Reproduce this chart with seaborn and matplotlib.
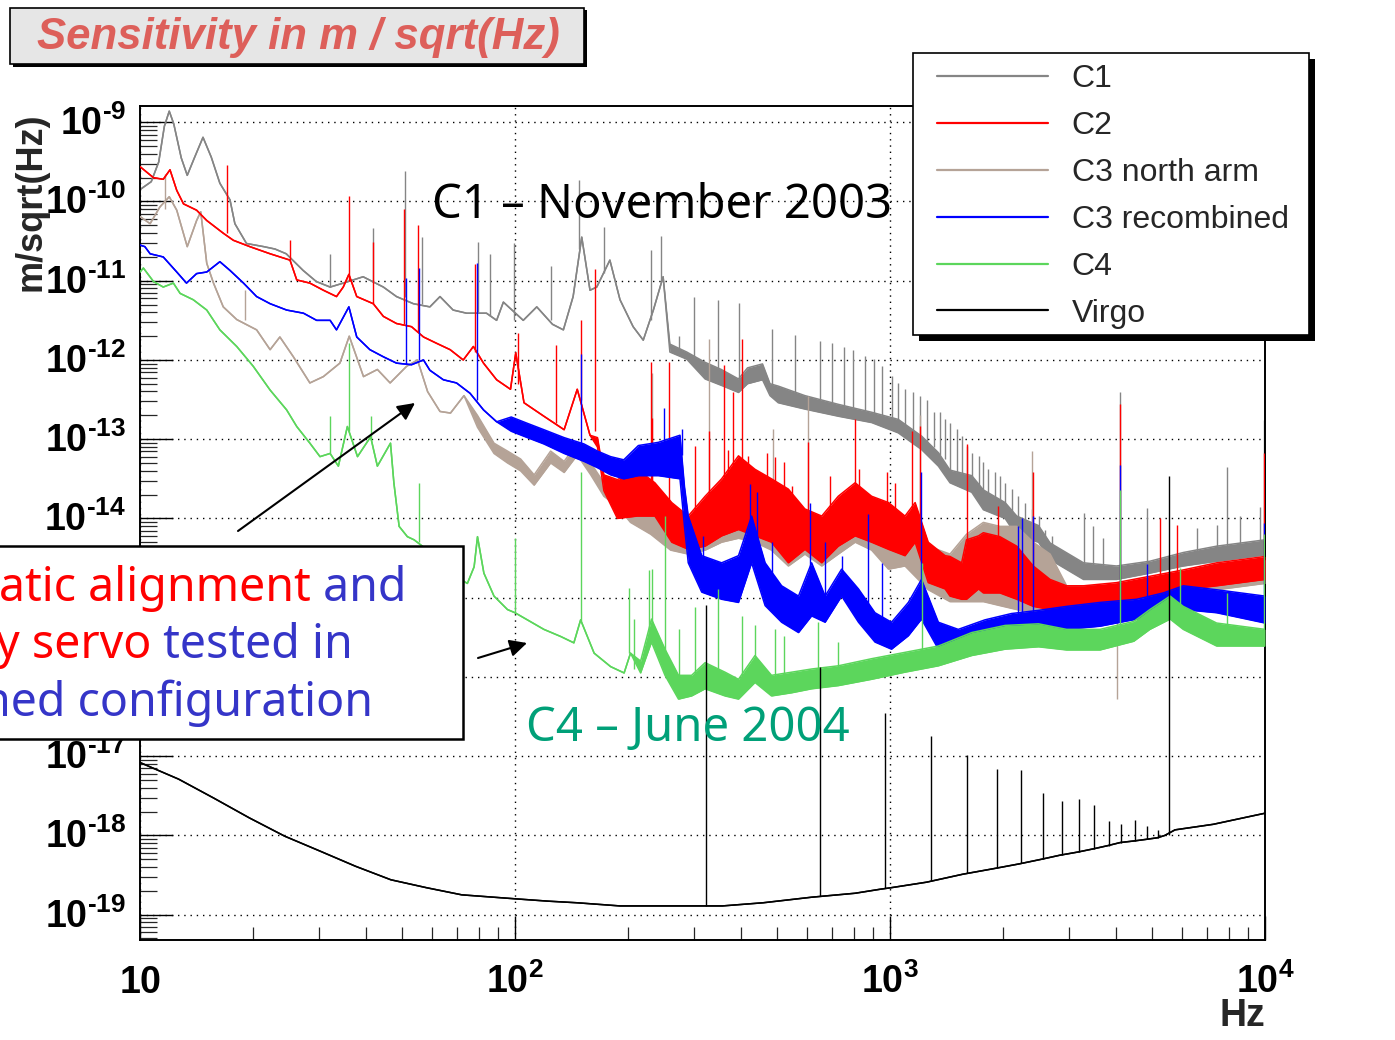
"""Virgo commissioning runs: displacement sensitivity C1..C4 against the Virgo design curve.

Writes out.png (1395 x 1040).
"""
import numpy as np
import pandas as pd
import matplotlib
matplotlib.use("Agg")
import matplotlib.pyplot as plt
from matplotlib.patches import Rectangle
from matplotlib.lines import Line2D
from matplotlib.text import Annotation
from matplotlib.transforms import ScaledTranslation
from matplotlib.ticker import FixedLocator, LogLocator, NullFormatter
import seaborn as sns

# Curves.
# Each point: (log10 frequency [Hz], log10 lower edge, log10 upper edge) in m/sqrt(Hz).
# Lower == upper where the trace is a thin line; they split where it is a noisy band.
c1 = [
    (1.000, -9.85, -9.85), (1.030, -9.75, -9.75), (1.050, -9.50, -9.50), (1.065, -9.05, -9.05),
    (1.078, -8.86, -8.86), (1.090, -9.02, -9.02), (1.110, -9.45, -9.45), (1.126, -9.67, -9.67),
    (1.145, -9.45, -9.45), (1.168, -9.19, -9.19), (1.190, -9.44, -9.44), (1.213, -9.77, -9.77),
    (1.240, -9.98, -9.98), (1.253, -10.28, -10.28), (1.284, -10.53, -10.53), (1.330, -10.57, -10.57),
    (1.360, -10.60, -10.60), (1.390, -10.66, -10.66), (1.435, -10.87, -10.87), (1.470, -11.01, -11.01),
    (1.507, -11.08, -11.08), (1.542, -11.03, -11.03), (1.595, -10.95, -10.95), (1.649, -11.08, -11.08),
    (1.684, -11.20, -11.20), (1.729, -11.29, -11.29), (1.773, -11.33, -11.33), (1.800, -11.20, -11.20),
    (1.835, -11.37, -11.37), (1.871, -11.41, -11.41), (1.924, -11.41, -11.41), (1.951, -11.50, -11.50),
    (1.969, -11.27, -11.27), (2.022, -11.50, -11.50), (2.058, -11.33, -11.33), (2.100, -11.55, -11.55),
    (2.129, -11.62, -11.62), (2.155, -11.20, -11.20), (2.178, -10.45, -10.45), (2.200, -11.12, -11.12),
    (2.218, -11.08, -11.08), (2.253, -10.74, -10.74), (2.280, -11.24, -11.24), (2.315, -11.58, -11.58),
    (2.342, -11.75, -11.75), (2.369, -11.37, -11.37), (2.395, -10.95, -10.95), (2.413, -11.90, -11.80),
    (2.458, -11.99, -11.90), (2.507, -12.24, -12.03), (2.550, -12.32, -12.12), (2.596, -12.41, -12.24),
    (2.620, -12.30, -12.10), (2.660, -12.25, -12.05), (2.680, -12.45, -12.30), (2.702, -12.54, -12.33),
    (2.773, -12.62, -12.45), (2.862, -12.71, -12.56), (2.951, -12.79, -12.66), (3.022, -12.92, -12.75),
    (3.084, -13.13, -12.96), (3.129, -13.34, -13.17), (3.160, -13.55, -13.39), (3.218, -13.67, -13.46),
    (3.249, -13.89, -13.64), (3.307, -14.00, -13.80), (3.338, -14.22, -13.97), (3.396, -14.30, -14.09),
    (3.427, -14.52, -14.31), (3.516, -14.77, -14.56), (3.604, -14.77, -14.60), (3.693, -14.69, -14.54),
    (3.782, -14.60, -14.43), (3.871, -14.54, -14.35), (4.000, -14.46, -14.27),
]
c2 = [
    (1.000, -9.56, -9.56), (1.036, -9.70, -9.70), (1.062, -9.72, -9.72), (1.080, -9.60, -9.60),
    (1.098, -9.86, -9.86), (1.116, -10.03, -10.03), (1.151, -10.11, -10.11), (1.178, -10.24, -10.24),
    (1.222, -10.40, -10.40), (1.249, -10.49, -10.49), (1.293, -10.57, -10.57), (1.347, -10.66, -10.66),
    (1.400, -10.74, -10.74), (1.418, -10.99, -10.99), (1.453, -11.03, -11.03), (1.489, -11.12, -11.12),
    (1.524, -11.20, -11.20), (1.542, -11.08, -11.08), (1.557, -10.92, -10.92), (1.578, -11.20, -11.20),
    (1.622, -11.29, -11.29), (1.649, -11.45, -11.45), (1.684, -11.54, -11.54), (1.724, -11.58, -11.58),
    (1.756, -11.71, -11.71), (1.791, -11.79, -11.79), (1.827, -11.87, -11.87), (1.862, -12.00, -12.00),
    (1.889, -11.83, -11.83), (1.916, -12.04, -12.04), (1.951, -12.25, -12.25), (1.988, -12.37, -12.37),
    (2.002, -11.91, -11.91), (2.024, -12.54, -12.54), (2.077, -12.71, -12.71), (2.131, -12.88, -12.88),
    (2.166, -12.37, -12.37), (2.200, -12.95, -12.95), (2.220, -13.10, -12.98), (2.237, -13.65, -13.45),
    (2.273, -14.00, -13.51), (2.326, -13.97, -13.38), (2.373, -13.97, -13.55), (2.418, -14.30, -13.80),
    (2.462, -14.39, -13.97), (2.507, -14.35, -13.72), (2.551, -14.22, -13.50), (2.596, -14.14, -13.21),
    (2.640, -14.22, -13.38), (2.684, -14.30, -13.50), (2.729, -14.56, -13.63), (2.773, -14.39, -13.88),
    (2.818, -14.56, -13.97), (2.862, -14.35, -13.72), (2.907, -14.22, -13.55), (2.951, -14.30, -13.72),
    (2.996, -14.39, -13.80), (3.040, -14.47, -13.97), (3.067, -14.30, -13.80), (3.102, -14.81, -14.30),
    (3.147, -14.89, -14.47), (3.160, -14.98, -14.48), (3.191, -15.02, -14.56), (3.204, -15.02, -14.27),
    (3.236, -14.89, -14.22), (3.249, -14.94, -14.18), (3.293, -14.94, -14.23), (3.338, -15.02, -14.35),
    (3.382, -15.11, -14.60), (3.427, -15.15, -14.77), (3.471, -15.15, -14.85), (3.516, -15.11, -14.85),
    (3.604, -15.06, -14.81), (3.693, -14.98, -14.73), (3.782, -14.90, -14.65), (3.871, -14.85, -14.56),
    (4.000, -14.77, -14.48),
]
c3_north = [
    (1.000, -10.19, -10.19), (1.027, -10.28, -10.28), (1.053, -10.07, -10.07), (1.078, -9.94, -9.94),
    (1.098, -10.11, -10.11), (1.126, -10.57, -10.57), (1.151, -10.24, -10.24), (1.162, -10.13, -10.13),
    (1.178, -10.78, -10.78), (1.196, -11.03, -11.03), (1.222, -11.33, -11.33), (1.258, -11.49, -11.49),
    (1.311, -11.62, -11.62), (1.347, -11.87, -11.87), (1.373, -11.71, -11.71), (1.409, -11.96, -11.96),
    (1.453, -12.29, -12.29), (1.489, -12.21, -12.21), (1.533, -12.04, -12.04), (1.558, -11.70, -11.70),
    (1.596, -12.21, -12.21), (1.633, -12.12, -12.12), (1.667, -12.29, -12.29), (1.711, -12.08, -12.08),
    (1.740, -12.00, -12.00), (1.767, -12.40, -12.40), (1.800, -12.65, -12.65), (1.828, -12.67, -12.67),
    (1.864, -12.45, -12.45), (1.900, -12.85, -12.70), (1.944, -13.18, -13.05), (1.980, -13.30, -13.15),
    (2.015, -13.40, -13.25), (2.051, -13.58, -13.45), (2.095, -13.30, -13.15), (2.131, -13.42, -13.28),
    (2.166, -13.20, -13.05), (2.202, -13.45, -13.30), (2.237, -13.72, -13.55), (2.273, -13.85, -13.65),
    (2.308, -14.05, -13.85), (2.362, -14.20, -13.90), (2.415, -14.40, -14.05), (2.462, -14.45, -14.00),
    (2.507, -14.40, -13.85), (2.551, -14.30, -13.65), (2.596, -14.25, -13.40), (2.640, -14.30, -13.50),
    (2.684, -14.40, -13.60), (2.729, -14.60, -13.70), (2.773, -14.45, -13.90), (2.818, -14.60, -14.00),
    (2.862, -14.45, -13.80), (2.907, -14.30, -13.60), (2.951, -14.40, -13.75), (2.996, -14.64, -13.85),
    (3.040, -14.60, -14.00), (3.102, -14.90, -14.35), (3.160, -15.05, -14.45), (3.204, -15.05, -14.20),
    (3.249, -15.05, -14.05), (3.293, -15.10, -14.10), (3.338, -15.15, -14.10), (3.382, -15.20, -14.30),
    (3.427, -15.19, -14.45), (3.471, -15.20, -14.85), (3.516, -15.15, -14.85), (3.604, -15.10, -14.85),
    (3.693, -15.02, -14.78), (3.782, -14.95, -14.70), (3.871, -14.90, -14.62), (4.000, -14.82, -14.52),
]
c3_recomb = [
    (1.000, -10.55, -10.55), (1.013, -10.57, -10.57), (1.027, -10.66, -10.66), (1.062, -10.70, -10.70),
    (1.098, -10.89, -10.89), (1.124, -11.03, -11.03), (1.151, -10.91, -10.91), (1.178, -10.89, -10.89),
    (1.213, -10.76, -10.76), (1.240, -10.87, -10.87), (1.276, -11.03, -11.03), (1.311, -11.20, -11.20),
    (1.347, -11.29, -11.29), (1.391, -11.37, -11.37), (1.436, -11.41, -11.41), (1.471, -11.50, -11.50),
    (1.507, -11.50, -11.50), (1.524, -11.62, -11.62), (1.557, -11.33, -11.33), (1.578, -11.71, -11.71),
    (1.613, -11.87, -11.87), (1.649, -11.96, -11.96), (1.684, -12.04, -12.04), (1.724, -12.06, -12.06),
    (1.756, -12.00, -12.00), (1.773, -12.13, -12.13), (1.809, -12.25, -12.25), (1.844, -12.29, -12.29),
    (1.880, -12.42, -12.42), (1.916, -12.63, -12.63), (1.951, -12.78, -12.78), (1.990, -12.90, -12.72),
    (2.033, -12.98, -12.80), (2.077, -13.06, -12.88), (2.131, -13.18, -12.98), (2.184, -13.28, -13.06),
    (2.220, -13.36, -13.15), (2.255, -13.45, -13.22), (2.290, -13.50, -13.26), (2.329, -13.46, -13.08),
    (2.382, -13.46, -13.04), (2.440, -13.50, -12.95), (2.452, -14.10, -13.60), (2.462, -14.56, -13.97),
    (2.498, -14.93, -14.47), (2.551, -15.02, -14.56), (2.596, -15.06, -14.47), (2.631, -14.56, -13.97),
    (2.667, -15.10, -14.56), (2.711, -15.31, -14.85), (2.756, -15.44, -14.98), (2.791, -15.23, -14.56),
    (2.827, -15.31, -14.98), (2.871, -14.98, -14.64), (2.916, -15.31, -14.89), (2.960, -15.56, -15.19),
    (3.004, -15.65, -15.31), (3.049, -15.48, -15.06), (3.084, -15.27, -14.77), (3.129, -15.65, -15.31),
    (3.182, -15.69, -15.40), (3.253, -15.65, -15.28), (3.324, -15.55, -15.20), (3.396, -15.42, -15.16),
    (3.471, -15.40, -15.11), (3.560, -15.36, -15.06), (3.658, -15.27, -15.02), (3.729, -15.15, -14.94),
    (3.782, -15.15, -14.85), (3.871, -15.19, -14.90), (4.000, -15.32, -14.98),
]
c4 = [
    (1.000, -10.89, -10.89), (1.009, -10.84, -10.84), (1.036, -11.01, -11.01), (1.062, -11.08, -11.08),
    (1.089, -11.03, -11.03), (1.107, -11.16, -11.16), (1.142, -11.24, -11.24), (1.178, -11.37, -11.37),
    (1.213, -11.62, -11.62), (1.258, -11.83, -11.83), (1.302, -12.08, -12.08), (1.347, -12.38, -12.38),
    (1.391, -12.63, -12.63), (1.418, -12.84, -12.84), (1.453, -13.05, -13.05), (1.480, -13.22, -13.22),
    (1.507, -13.18, -13.18), (1.529, -13.34, -13.34), (1.553, -12.84, -12.84), (1.580, -13.22, -13.22),
    (1.615, -12.97, -12.97), (1.633, -13.34, -13.34), (1.668, -13.05, -13.05), (1.677, -13.55, -13.55),
    (1.691, -14.10, -14.10), (1.713, -14.23, -14.23), (1.731, -14.27, -14.27), (1.753, -14.35, -14.35),
    (1.790, -14.50, -14.50), (1.830, -14.70, -14.70), (1.855, -14.77, -14.77), (1.873, -14.82, -14.82),
    (1.891, -14.61, -14.61), (1.900, -14.23, -14.23), (1.917, -14.69, -14.69), (1.944, -14.98, -14.98),
    (1.980, -15.15, -15.15), (2.000, -15.19, -15.19), (2.033, -15.28, -15.28), (2.077, -15.40, -15.40),
    (2.122, -15.49, -15.49), (2.157, -15.57, -15.57), (2.175, -15.28, -15.28), (2.211, -15.70, -15.70),
    (2.255, -15.87, -15.87), (2.291, -15.95, -15.95), (2.308, -15.70, -15.70), (2.335, -15.95, -15.80),
    (2.364, -15.56, -15.27), (2.400, -15.98, -15.65), (2.436, -16.28, -15.98), (2.471, -16.24, -15.98),
    (2.507, -16.15, -15.82), (2.560, -16.24, -15.94), (2.596, -16.28, -16.03), (2.640, -16.07, -15.73),
    (2.684, -16.24, -15.98), (2.738, -16.20, -15.94), (2.791, -16.15, -15.90), (2.862, -16.11, -15.86),
    (2.951, -16.03, -15.77), (3.040, -15.94, -15.69), (3.129, -15.86, -15.61), (3.218, -15.73, -15.44),
    (3.307, -15.65, -15.35), (3.396, -15.62, -15.33), (3.471, -15.66, -15.40), (3.560, -15.66, -15.40),
    (3.650, -15.55, -15.30), (3.693, -15.40, -15.15), (3.747, -15.27, -14.98), (3.782, -15.40, -15.11),
    (3.871, -15.61, -15.32), (4.000, -15.61, -15.40),
]
virgo = [
    (1.000, -17.08, -17.08), (1.044, -17.17, -17.17), (1.103, -17.29, -17.29), (1.197, -17.53, -17.53),
    (1.292, -17.78, -17.78), (1.386, -18.01, -18.01), (1.481, -18.20, -18.20), (1.575, -18.39, -18.39),
    (1.669, -18.56, -18.56), (1.764, -18.66, -18.66), (1.858, -18.75, -18.75), (2.000, -18.80, -18.80),
    (2.089, -18.83, -18.83), (2.165, -18.85, -18.85), (2.280, -18.89, -18.89), (2.470, -18.89, -18.89),
    (2.553, -18.89, -18.89), (2.662, -18.85, -18.85), (2.791, -18.78, -18.78), (2.907, -18.73, -18.73),
    (2.973, -18.68, -18.68), (3.003, -18.66, -18.66), (3.098, -18.59, -18.59), (3.194, -18.49, -18.49),
    (3.276, -18.42, -18.42), (3.344, -18.36, -18.36), (3.405, -18.30, -18.30), (3.453, -18.25, -18.25),
    (3.501, -18.21, -18.21), (3.542, -18.17, -18.17), (3.580, -18.13, -18.13), (3.614, -18.09, -18.09),
    (3.651, -18.07, -18.07), (3.683, -18.05, -18.05), (3.713, -18.03, -18.03), (3.733, -18.00, -18.00),
    (3.760, -17.93, -17.93), (3.862, -17.86, -17.86), (4.000, -17.72, -17.72),
]

# Narrow lines: (log10 frequency, log10 foot, log10 tip)
c1_lines = [
    (1.507, -11.08, -10.66), (1.620, -11.00, -10.34), (1.707, -11.20, -9.61), (1.751, -11.30, -10.45),
    (1.902, -11.40, -10.51), (1.933, -11.45, -10.66), (1.997, -11.50, -10.53), (2.095, -11.50, -10.82),
    (2.171, -10.60, -9.73), (2.237, -10.90, -10.32), (2.362, -11.50, -10.61), (2.388, -11.00, -10.44),
    (2.436, -11.90, -11.70), (2.476, -12.00, -11.20), (2.540, -12.10, -11.24), (2.597, -12.30, -11.28),
    (2.684, -12.40, -11.61), (2.747, -12.45, -11.68), (2.813, -12.50, -11.76), (2.844, -12.55, -11.78),
    (2.876, -12.60, -11.84), (2.902, -12.60, -11.87), (2.933, -12.65, -11.95), (2.956, -12.70, -11.99),
    (2.978, -12.70, -12.08), (3.004, -12.80, -12.20), (3.022, -12.85, -12.29), (3.040, -12.90, -12.37),
    (3.062, -12.95, -12.41), (3.080, -13.00, -12.45), (3.098, -13.05, -12.50), (3.116, -13.10, -12.66),
    (3.133, -13.20, -12.66), (3.147, -13.25, -12.75), (3.160, -13.40, -12.79), (3.178, -13.45, -12.87),
    (3.191, -13.50, -12.96), (3.204, -13.50, -13.08), (3.218, -13.55, -13.17), (3.236, -13.70, -13.21),
    (3.249, -13.75, -13.29), (3.262, -13.80, -13.38), (3.280, -13.85, -13.42), (3.293, -13.90, -13.46),
    (3.307, -13.90, -13.55), (3.324, -14.00, -13.63), (3.342, -14.05, -13.72), (3.360, -14.10, -13.80),
    (3.378, -14.15, -13.88), (3.396, -14.20, -13.97), (3.413, -14.30, -14.14), (3.431, -14.35, -14.22),
    (3.516, -14.65, -13.93), (3.542, -14.70, -14.10), (3.569, -14.70, -14.25), (3.613, -14.70, -12.40),
    (3.684, -14.60, -13.87), (3.818, -14.50, -14.12), (3.871, -14.45, -14.08), (3.898, -14.40, -13.35),
    (3.933, -14.40, -13.97), (3.987, -14.35, -13.85), (3.997, -14.35, -12.76),
]
c2_lines = [
    (1.231, -10.40, -9.54), (1.400, -10.74, -10.49), (1.557, -11.00, -9.93), (1.622, -11.29, -10.51),
    (1.705, -11.55, -10.09), (1.742, -11.65, -10.30), (1.894, -11.90, -10.79), (2.007, -12.30, -11.66),
    (2.108, -12.80, -11.81), (2.175, -12.50, -11.49), (2.213, -12.90, -10.85), (2.362, -13.60, -12.02),
    (2.364, -13.70, -12.73), (2.411, -13.80, -12.02), (2.480, -14.00, -13.08), (2.516, -13.90, -12.90),
    (2.556, -13.80, -12.06), (2.569, -13.90, -13.13), (2.582, -13.50, -12.41), (2.604, -13.50, -11.74),
    (2.622, -13.80, -13.21), (2.671, -13.90, -13.17), (2.693, -13.90, -13.23), (2.716, -14.00, -13.29),
    (2.738, -14.00, -13.59), (2.782, -14.10, -13.04), (2.840, -14.10, -13.46), (2.907, -13.80, -12.75),
    (2.916, -13.90, -13.38), (2.991, -14.00, -13.42), (3.013, -14.10, -13.55), (3.058, -14.00, -12.90),
    (3.080, -14.00, -12.83), (3.204, -14.50, -13.06), (3.289, -14.50, -13.84), (3.382, -14.80, -13.42),
    (3.613, -14.90, -12.55), (3.720, -14.85, -13.99), (3.764, -14.80, -14.08), (3.997, -14.60, -13.18),
]
c3_north_lines = [
    (1.067, -10.10, -9.65), (1.280, -11.50, -11.12), (2.364, -14.00, -12.16), (2.516, -14.00, -11.74),
    (2.689, -14.00, -12.87), (2.782, -14.00, -12.45), (3.080, -14.40, -12.69), (3.378, -14.60, -13.15),
    (3.604, -15.10, -16.28),
]
c3_recomb_lines = [
    (1.708, -12.05, -10.97), (1.745, -12.00, -10.84), (1.898, -12.50, -10.78), (2.175, -13.10, -11.93),
    (2.396, -13.20, -12.60), (2.444, -13.20, -12.87), (2.500, -14.70, -14.22), (2.627, -14.50, -13.57),
    (2.644, -14.70, -13.67), (2.684, -14.80, -14.30), (2.787, -14.90, -13.80), (2.827, -15.10, -14.30),
    (2.871, -14.80, -14.47), (2.942, -15.20, -13.95), (2.978, -15.30, -14.56), (3.083, -15.00, -13.42),
    (3.342, -15.30, -14.09), (3.351, -15.20, -13.99), (3.382, -15.20, -13.97), (3.613, -15.10, -13.32),
    (3.684, -15.00, -14.58), (3.997, -15.00, -14.06),
]
c4_lines = [
    (1.507, -13.18, -12.71), (1.558, -12.90, -11.79), (1.615, -13.00, -12.71), (1.744, -14.30, -13.55),
    (2.000, -15.19, -14.25), (2.175, -15.30, -13.41), (2.305, -15.70, -14.88), (2.318, -15.90, -15.27),
    (2.357, -15.60, -14.65), (2.364, -15.40, -14.64), (2.400, -15.80, -13.97), (2.436, -16.10, -15.40),
    (2.480, -16.00, -15.12), (2.542, -15.90, -14.89), (2.604, -16.00, -15.23), (2.640, -15.90, -15.35),
    (2.693, -16.00, -15.40), (2.716, -16.00, -15.48), (2.809, -15.90, -15.31), (2.862, -15.90, -15.56),
    (3.084, -15.70, -14.56), (3.613, -15.50, -13.64), (3.773, -15.20, -14.62), (3.898, -15.50, -14.94),
    (3.997, -15.50, -14.20),
]
virgo_lines = [
    (2.509, -18.89, -15.09), (2.813, -18.77, -15.87), (2.987, -18.67, -16.46), (3.109, -18.58, -16.75),
    (3.205, -18.48, -16.98), (3.284, -18.41, -17.16), (3.350, -18.35, -17.18), (3.409, -18.30, -17.46),
    (3.458, -18.25, -17.57), (3.504, -18.21, -17.54), (3.545, -18.17, -17.62), (3.583, -18.13, -17.82),
    (3.617, -18.09, -17.86), (3.654, -18.07, -17.81), (3.685, -18.05, -17.88), (3.715, -18.03, -17.93),
    (3.745, -18.00, -13.46),
]

names = ["C1", "C2", "C3 north arm", "C3 recombined", "C4", "Virgo"]
curves = [c1, c2, c3_north, c3_recomb, c4, virgo]
narrow = [c1_lines, c2_lines, c3_north_lines, c3_recomb_lines, c4_lines, virgo_lines]

x_ticks = [10, 100, 1000, 10000]
x_tick_text = ["10", "10^{2}", "10^{3}", "10^{4}"]
y_tick_exp = [-19, -18, -17, -16, -15, -14, -13, -12, -11, -10, -9]
y_hidden = [-16, -15]          # these two sit behind the callout box

colors = {"C1": "#858585", "C2": "#ff0000", "C3 north arm": "#b5a397",
          "C3 recombined": "#0000ff", "C4": "#5cd65c", "Virgo": "#000000"}
# drawing order of the original: tan sits under red, green over blue
zorders = {"C1": 2, "C3 north arm": 3, "C2": 4, "C3 recombined": 5, "C4": 6, "Virgo": 7}

W, H = 1395, 1040

sns.set_theme(style="white")
plt.rcParams["font.family"] = ["Liberation Sans", "DejaVu Sans"]
plt.rcParams["mathtext.fontset"] = "custom"
plt.rcParams["mathtext.rm"] = "Liberation Sans:bold"
plt.rcParams["mathtext.bf"] = "Liberation Sans:bold"
plt.rcParams["mathtext.it"] = "Liberation Sans:bold:italic"


def fx(x):
    return x / W


def fy(y):
    return 1 - y / H


def decade_label(e):
    if e in y_hidden:
        return ""
    # plain hyphen, no operator spacing
    return r"$10^{\text{-}%d}$" % abs(e)


# long table: one row per point
rows = []
for name, pts in zip(names, curves):
    for dec, lo, hi in pts:
        rows.append({"series": name, "freq": 10 ** dec, "lo": 10 ** lo, "hi": 10 ** hi})
df = pd.DataFrame(rows)

fig = plt.figure(figsize=(W / 100, H / 100), dpi=100)
fig.patch.set_facecolor("white")
ax = fig.add_axes([fx(140), fy(940), (1265 - 140) / W, (940 - 106) / H])
ax.set_xscale("log")
ax.set_yscale("log")

for name, lines in zip(names, narrow):
    sub = df[df["series"] == name]
    col, z = colors[name], zorders[name]
    ax.fill_between(sub["freq"], sub["lo"], sub["hi"], color=col, lw=0, zorder=z)
    sns.lineplot(data=sub, x="freq", y="lo", color=col, lw=1.1, estimator=None,
                 sort=False, ax=ax, zorder=z)
    sns.lineplot(data=sub, x="freq", y="hi", color=col, lw=1.1, estimator=None,
                 sort=False, ax=ax, zorder=z)
    sp = np.array(lines)
    ax.vlines(10 ** sp[:, 0], 10 ** sp[:, 1], 10 ** sp[:, 2], colors=col, lw=1.0, zorder=z)

ax.set_xlim(10, 1e4)
ax.set_ylim(10 ** -19.32, 10 ** -8.795)

ax.xaxis.set_major_locator(FixedLocator(x_ticks))
ax.set_xticklabels([r"$%s$" % t for t in x_tick_text])
ax.xaxis.set_minor_locator(LogLocator(base=10, subs=np.arange(2, 10), numticks=50))
ax.xaxis.set_minor_formatter(NullFormatter())
ax.yaxis.set_major_locator(FixedLocator([10.0 ** e for e in y_tick_exp]))
ax.set_yticklabels([decade_label(e) for e in y_tick_exp])
ax.yaxis.set_minor_locator(LogLocator(base=10, subs=np.arange(2, 10), numticks=50))
ax.yaxis.set_minor_formatter(NullFormatter())

ax.tick_params(axis="y", which="major", direction="in", length=24, width=1.0,
               left=True, right=False, pad=10, labelsize=27, colors="black")
ax.tick_params(axis="y", which="minor", direction="in", length=12, width=0.9,
               left=True, right=False)
ax.tick_params(axis="x", which="major", direction="in", length=17, width=1.0,
               bottom=True, top=False, pad=38, labelsize=27, colors="black")
ax.tick_params(axis="x", which="minor", direction="in", length=9.5, width=0.9,
               bottom=True, top=False)

# digits centred on the decade, exponent above (ROOT look)
down = ScaledTranslation(0, -0.13, fig.dpi_scale_trans)
for lab in ax.get_yticklabels():
    lab.set_va("baseline")
    lab.set_transform(lab.get_transform() + down)
for lab in ax.get_xticklabels():
    lab.set_va("baseline")

ax.grid(True, which="major", color="black", linestyle=(0, (1, 3.5)), linewidth=1.0)
ax.set_axisbelow(True)
for sp_ in ax.spines.values():
    sp_.set_color("black")
    sp_.set_linewidth(1.4)

ax.set_ylabel("m/sqrt(Hz)", fontsize=26, fontweight="bold", ha="center", va="center")
ax.yaxis.set_label_coords((31 - 140) / 1125, (940 - 202) / 834)
ax.set_xlabel("Hz", fontsize=27, fontweight="bold", ha="center", va="center")
ax.xaxis.set_label_coords((1242 - 140) / 1125, (940 - 1016) / 834)

# title box
fig.add_artist(Rectangle((fx(13), fy(67)), 574 / W, 57 / H, transform=fig.transFigure,
                         facecolor="black", edgecolor="none", zorder=1))
fig.add_artist(Rectangle((fx(10), fy(64)), 574 / W, 56 / H, transform=fig.transFigure,
                         facecolor="#e6e6e6", edgecolor="black", lw=1.2, zorder=1.1))
fig.text(fx(298), fy(37), "Sensitivity in m / sqrt(Hz)", fontsize=31.5, fontweight="bold",
         fontstyle="italic", color="#dd5f5a", ha="center", va="center", zorder=3)

# legend box with the ROOT drop shadow
fig.add_artist(Rectangle((fx(919), fy(341)), 396 / W, 282 / H, transform=fig.transFigure,
                         facecolor="black", edgecolor="none", zorder=1))
fig.add_artist(Rectangle((fx(913), fy(335)), 396 / W, 282 / H, transform=fig.transFigure,
                         facecolor="white", edgecolor="black", lw=1.2, zorder=1.1))
handles = [Line2D([], [], color=colors[n], lw=1.6) for n in names]
fig.legend(handles, names, loc="upper left", bbox_to_anchor=(fx(937), fy(64)),
           frameon=False, fontsize=23, handlelength=3.48, handletextpad=0.74,
           labelspacing=0.53, borderpad=0, borderaxespad=0)

# notes on the plot
note_font = ["Noto Sans", "DejaVu Sans"]
fig.text(fx(662), fy(205), "C1 \u2013 November 2003", fontsize=34, family=note_font,
         color="black", ha="center", va="center", zorder=3)
fig.text(fx(688), fy(728), "C4 \u2013 June 2004", fontsize=34, family=note_font,
         color="#00a078", ha="center", va="center", zorder=3)

# callout box, cut by the left edge of the slide
fig.add_artist(Rectangle((fx(-5), fy(739)), 468 / W, 193 / H, transform=fig.transFigure,
                         facecolor="white", edgecolor="black", lw=1.8, zorder=2))
red, blue = "#ff0000", "#3535c8"
callout = [("atic alignment", " and", -1, 601),
           ("y servo", " tested in", -4, 658),
           ("", "ned configuration", -18, 716)]
for first, second, x0, ybase in callout:
    if first:
        t1 = fig.text(fx(x0), fy(ybase), first, fontsize=33.5, family=note_font, color=red,
                      ha="left", va="baseline", zorder=3)
        fig.add_artist(Annotation(second, xy=(1, 0), xycoords=t1, fontsize=33.5,
                                  family=note_font, color=blue, ha="left", va="bottom",
                                  zorder=3))
    else:
        fig.text(fx(x0), fy(ybase), second, fontsize=33.5, family=note_font, color=blue,
                 ha="left", va="baseline", zorder=3)

arrow = dict(arrowstyle="-|>", color="black", lw=1.5, mutation_scale=26, shrinkA=0, shrinkB=0)
fig.add_artist(Annotation("", xy=(fx(415), fy(403)), xycoords="figure fraction",
                          xytext=(fx(238), fy(531)), textcoords="figure fraction",
                          arrowprops=arrow, zorder=3))
fig.add_artist(Annotation("", xy=(fx(527), fy(643)), xycoords="figure fraction",
                          xytext=(fx(478), fy(658)), textcoords="figure fraction",
                          arrowprops=arrow, zorder=3))

fig.savefig("out.png", dpi=100, facecolor="white")
print("saved out.png")
